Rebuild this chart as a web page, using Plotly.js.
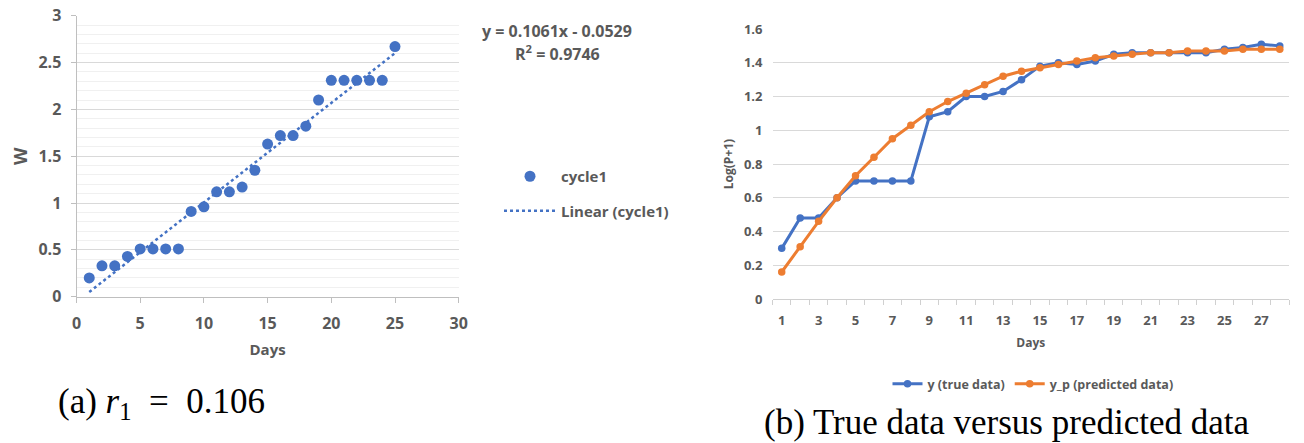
<!DOCTYPE html>
<html>
<head>
<meta charset="utf-8">
<script src="https://cdn.plot.ly/plotly-3.0.1.min.js"></script>
<style>html,body{margin:0;padding:0;background:#fff}#chart{width:1304px;height:443px}</style>
</head>
<body>
<div id="chart"></div>
<script>
// Panel (a): cycle1 growth
const daysA = [1,2,3,4,5,6,7,8,9,10,11,12,13,14,15,16,17,18,19,20,21,22,23,24,25];
const cycle1 = [0.20,0.33,0.33,0.43,0.51,0.51,0.51,0.51,0.91,0.96,1.12,1.12,1.17,1.35,1.63,1.72,1.72,1.82,2.10,2.31,2.31,2.31,2.31,2.31,2.67];
const trendX = [1, 25];
const trendY = [0.05, 2.60];
const eqText = "y = 0.1061x - 0.0529";
const r2Text = "R<sup>2</sup> = 0.9746";

// Panel (b): true vs predicted
const daysB = [1,2,3,4,5,6,7,8,9,10,11,12,13,14,15,16,17,18,19,20,21,22,23,24,25,26,27,28];
const trueY = [0.30,0.48,0.48,0.60,0.70,0.70,0.70,0.70,1.08,1.11,1.20,1.20,1.23,1.30,1.38,1.40,1.39,1.41,1.45,1.46,1.46,1.46,1.46,1.46,1.48,1.49,1.51,1.50];
const predY = [0.16,0.31,0.46,0.60,0.73,0.84,0.95,1.03,1.11,1.17,1.22,1.27,1.32,1.35,1.37,1.39,1.41,1.43,1.44,1.45,1.46,1.46,1.47,1.47,1.47,1.48,1.48,1.48];
const xTickLabelsB = [1,3,5,7,9,11,13,15,17,19,21,23,25,27];

const W = 1304, H = 443;
const px = v => v / W;
const py = v => 1 - v / H;
const gray = '#595959';
const blue = '#4472C4';
const orange = '#ED7D31';
const fam = '"Open Sans", sans-serif';
const serif = '"Liberation Serif", "DejaVu Serif", serif';
const bf = (size) => ({family: fam, size: size, color: gray, weight: 'bold'});

const boundaries = [];
for (let i = 0; i <= daysB.length; i++) boundaries.push(i + 0.5);

const traces = [
  {x: daysA, y: cycle1, type: 'scatter', mode: 'markers', name: 'cycle1',
   marker: {color: blue, size: 11}, xaxis: 'x', yaxis: 'y', legend: 'legend', legendgroup: 'a1'},
  {x: trendX, y: trendY, type: 'scatter', mode: 'lines', name: 'Linear (cycle1)',
   line: {color: blue, width: 2.5, dash: 'dot'}, xaxis: 'x', yaxis: 'y', legend: 'legend', legendgroup: 'a2'},
  {x: daysB, y: trueY, type: 'scatter', mode: 'lines+markers', name: 'y (true data)',
   line: {color: blue, width: 3}, marker: {color: blue, size: 7.5}, xaxis: 'x2', yaxis: 'y2', legend: 'legend2'},
  {x: daysB, y: predY, type: 'scatter', mode: 'lines+markers', name: 'y_p (predicted data)',
   line: {color: orange, width: 3}, marker: {color: orange, size: 7.5}, xaxis: 'x2', yaxis: 'y2', legend: 'legend2'}
];

const layout = {
  width: W, height: H,
  margin: {l: 0, r: 0, t: 0, b: 0},
  paper_bgcolor: '#fff', plot_bgcolor: '#fff',
  font: {family: fam, color: gray},
  showlegend: true,
  xaxis: {
    domain: [px(76.5), px(458.7)], anchor: 'y',
    range: [0, 30], tickmode: 'linear', tick0: 0, dtick: 5,
    ticks: 'outside', ticklen: 5, tickcolor: '#bfbfbf', ticklabelstandoff: 7,
    showline: true, linecolor: '#bfbfbf', linewidth: 1,
    showgrid: false, zeroline: false,
    tickfont: bf(16),
    title: {text: 'Days', font: bf(15), standoff: 11}
  },
  yaxis: {
    domain: [py(296.7), py(15.7)], anchor: 'x',
    range: [0, 3], tickmode: 'linear', tick0: 0, dtick: 0.5,
    ticks: 'outside', ticklen: 5, tickcolor: '#bfbfbf', ticklabelstandoff: 6,
    showline: true, linecolor: '#bfbfbf', linewidth: 1,
    showgrid: true, gridcolor: '#d9d9d9', zeroline: false,
    minor: {dtick: 0.1, tick0: 0, showgrid: true, gridcolor: '#f0f0f0', ticks: ''},
    tickfont: bf(16),
    title: {text: 'W', font: bf(18), standoff: 6}
  },
  xaxis2: {
    domain: [px(772.5), px(1289)], anchor: 'y2',
    range: [0.5, 28.5], tickmode: 'array', tickvals: xTickLabelsB, ticktext: xTickLabelsB.map(String),
    ticks: '', ticklabelstandoff: 9,
    showline: true, linecolor: '#d0d0d0', linewidth: 1,
    showgrid: false, zeroline: false,
    minor: {tickmode: 'array', tickvals: boundaries, ticks: 'outside', ticklen: 5, tickcolor: '#d0d0d0', showgrid: false},
    tickfont: bf(13),
    title: {text: 'Days', font: bf(12), standoff: 11}
  },
  yaxis2: {
    domain: [py(299), py(29)], anchor: 'x2',
    range: [0, 1.6], tickmode: 'linear', tick0: 0, dtick: 0.2,
    ticks: '', ticklabelstandoff: 9,
    showline: false, showgrid: true, gridcolor: '#d9d9d9', zeroline: false,
    tickfont: bf(13),
    title: {text: 'Log(P+1)', font: bf(12), standoff: 7}
  },
  legend: {
    x: px(499), xanchor: 'left', y: py(160), yanchor: 'top',
    orientation: 'v', traceorder: 'grouped', tracegroupgap: 12, itemwidth: 52,
    bgcolor: 'rgba(0,0,0,0)',
    font: bf(15)
  },
  legend2: {
    x: px(1033), xanchor: 'center', y: py(369), yanchor: 'top',
    orientation: 'h', bgcolor: 'rgba(0,0,0,0)',
    font: bf(12.5)
  },
  annotations: [
    {text: eqText, x: px(557), y: py(31), xref: 'paper', yref: 'paper', showarrow: false,
     xanchor: 'center', yanchor: 'middle', font: bf(16)},
    {text: r2Text, x: px(557), y: py(53), xref: 'paper', yref: 'paper', showarrow: false,
     xanchor: 'center', yanchor: 'middle', font: bf(16)},
    {text: '(a) <i>r</i><sub>1</sub>  =  0.106', x: px(56), y: py(403), xref: 'paper', yref: 'paper', showarrow: false,
     xanchor: 'left', yanchor: 'middle', font: {family: serif, size: 35, color: '#000'}},
    {text: '(b) True data versus predicted data', x: px(1006), y: py(422), xref: 'paper', yref: 'paper', showarrow: false,
     xanchor: 'center', yanchor: 'middle', font: {family: serif, size: 35, color: '#000'}}
  ]
};

Plotly.newPlot('chart', traces, layout, {displayModeBar: false, staticPlot: true});
</script>
</body>
</html>
